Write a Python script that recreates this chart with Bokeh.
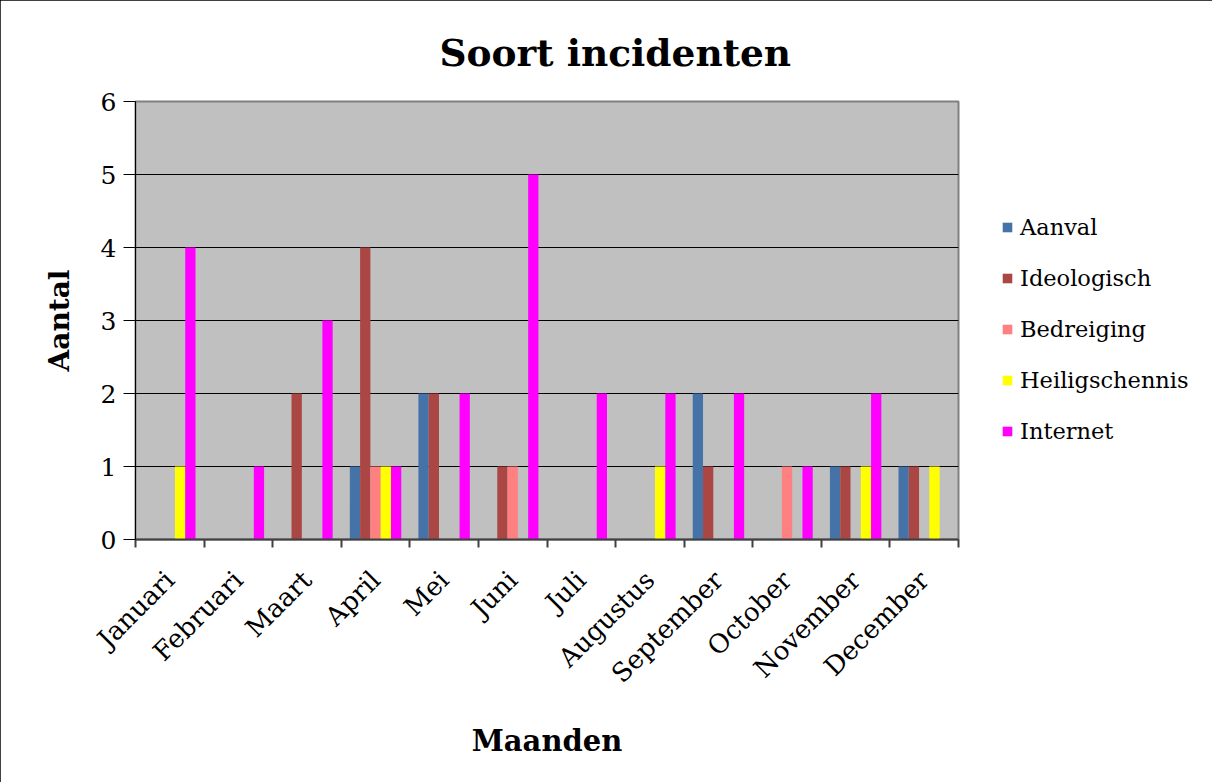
import math
from bokeh.plotting import figure
from bokeh.models import (Range1d, FixedTicker, LinearAxis, CustomJSTickFormatter,
                          Legend, LegendItem, ColumnDataSource)
from bokeh.embed import file_html
from bokeh.resources import INLINE

months = ["Januari", "Februari", "Maart", "April", "Mei", "Juni", "Juli",
          "Augustus", "September", "October", "November", "December"]
series = ["Aanval", "Ideologisch", "Bedreiging", "Heiligschennis", "Internet"]
aanval = [0, 0, 0, 1, 2, 0, 0, 0, 2, 0, 1, 1]
ideologisch = [0, 0, 2, 4, 2, 1, 0, 0, 1, 0, 1, 1]
bedreiging = [0, 0, 0, 1, 0, 1, 0, 0, 0, 1, 0, 0]
heiligschennis = [1, 0, 0, 1, 0, 0, 0, 1, 0, 0, 1, 1]
internet = [4, 1, 3, 1, 2, 5, 2, 2, 2, 1, 2, 0]
colors = ["#4572A7", "#AA4643", "#FF8080", "#FFFF00", "#FF00FF"]
y_ticks = [0, 1, 2, 3, 4, 5, 6]

FONT = "DejaVu Serif"
values = [aanval, ideologisch, bedreiging, heiligschennis, internet]
nm = len(months)
centers = [j + 0.5 for j in range(nm)]

p = figure(x_range=Range1d(0, nm), y_range=Range1d(0, 6),
           frame_width=823, frame_height=438,
           min_border_left=135, min_border_right=254,
           min_border_top=101, min_border_bottom=243,
           output_backend="svg", toolbar_location=None,
           background_fill_color="#C0C0C0", border_fill_color="white",
           title="Soort incidenten")
p.styles = {"outline": "2px solid #000", "outline-offset": "-2px"}

p.title.align = "left"
p.title.offset = 304
p.title.text_font = FONT
p.title.text_font_size = "37.5px"
p.title.text_font_style = "bold"
p.title.text_color = "black"
p.title.standoff = 53

p.outline_line_color = "#808080"
p.outline_line_width = 2

n = len(series)
bw = 0.15
items = []
for i, (name, col, vals) in enumerate(zip(series, colors, values)):
    off = (i - (n - 1) / 2) * bw
    src = ColumnDataSource(dict(x=[c + off for c in centers], top=vals))
    r = p.vbar(x="x", top="top", width=bw, source=src,
               fill_color=col, line_color=None)
    items.append(LegendItem(label=name, renderers=[r]))

# y axis
p.yaxis.ticker = FixedTicker(ticks=y_ticks)
p.yaxis.major_tick_out = 12
p.yaxis.major_tick_in = 0
p.yaxis.minor_tick_line_color = None
p.yaxis.axis_line_color = "black"
p.yaxis.major_tick_line_color = "black"
p.yaxis.major_label_text_font = FONT
p.yaxis.major_label_text_font_size = "25px"
p.yaxis.major_label_text_color = "black"
p.yaxis.major_label_standoff = 7
p.yaxis.axis_label = "Aantal"
p.yaxis.axis_label_text_font = FONT
p.yaxis.axis_label_text_font_size = "28px"
p.yaxis.axis_label_text_font_style = "bold"
p.yaxis.axis_label_text_color = "black"
p.yaxis.axis_label_standoff = 22

p.ygrid.ticker = FixedTicker(ticks=y_ticks[:-1])
p.ygrid.grid_line_color = "black"
p.ygrid.grid_line_width = 1
p.xgrid.grid_line_color = None

# first bottom axis: boundary ticks, labels not drawn
ea = p.xaxis[0]
ea.ticker = FixedTicker(ticks=list(range(nm + 1)))
ea.major_tick_out = 8
ea.major_tick_in = 0
ea.major_label_text_font_size = "1px"
ea.major_label_text_color = None
ea.minor_tick_line_color = None
ea.axis_line_color = "#404040"
ea.axis_line_width = 2
ea.major_tick_line_color = "#404040"
ea.major_tick_line_width = 2
ea.major_label_standoff = 0

# second bottom axis: month names at centres
xa = LinearAxis(ticker=FixedTicker(ticks=centers),
                formatter=CustomJSTickFormatter(args=dict(months=months),
                                                code="return months[Math.floor(tick)] || '';"))
xa.major_tick_line_color = None
xa.minor_tick_line_color = None
xa.axis_line_color = None
xa.major_label_orientation = math.pi / 4
xa.major_label_text_font = FONT
xa.major_label_text_font_size = "26px"
xa.major_label_text_color = "black"
xa.major_label_standoff = 22
xa.axis_label = "Maanden"
xa.axis_label_text_font = FONT
xa.axis_label_text_font_size = "29px"
xa.axis_label_text_font_style = "bold"
xa.axis_label_text_color = "black"
xa.axis_label_standoff = 22
p.add_layout(xa, "below")

legend = Legend(items=items, location=(43, 95),
                label_text_font=FONT, label_text_font_size="22.5px",
                label_text_color="black",
                glyph_width=12, glyph_height=12, label_height=22,
                label_standoff=7, spacing=25, padding=0, margin=0,
                border_line_color=None, background_fill_alpha=0)
p.add_layout(legend, "right")

open("out.html", "w").write(file_html(p, INLINE))
